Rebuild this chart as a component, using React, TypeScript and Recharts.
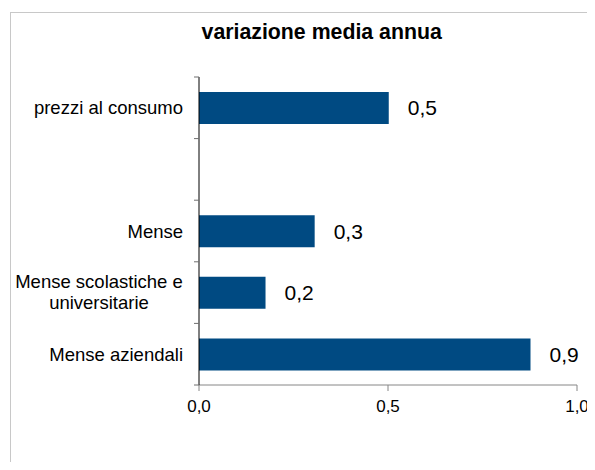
import React from 'react';
import { BarChart, Bar, XAxis, YAxis, LabelList } from 'recharts';

const categories = ['prezzi al consumo', ' ', 'Mense', 'Mense scolastiche e|universitarie', 'Mense aziendali'];
const values = [0.502, null, 0.306, 0.176, 0.877];
const xTicks = [0, 0.5, 1];

const chartData = categories.map((name, i) => ({ name, value: values[i] }));

const W = 595;
const H = 470;
const margin = { top: 77, right: 18, bottom: 55, left: 0 };
const yAxisWidth = 199;
const xAxisHeight = 30;
const band = (H - margin.top - margin.bottom - xAxisHeight) / categories.length;
const font = '"Liberation Sans", Arial, sans-serif';

const fmt = (v: any) => (v == null ? '' : Number(v).toFixed(1).replace('.', ','));

const CategoryTick = (props: any) => {
  const { y, payload, index } = props;
  const axisX = margin.left + yAxisWidth;
  const lines = String(payload.value).split('|');
  const isLast = index === categories.length - 1;
  return (
    <g>
      <line x1={axisX - 5} x2={axisX} y1={y - band / 2} y2={y - band / 2} stroke="#6e6e6e" />
      {isLast && <line x1={axisX - 5} x2={axisX} y1={y + band / 2} y2={y + band / 2} stroke="#6e6e6e" />}
      {lines.length === 1 ? (
        <text x={axisX - 16} y={y + 6.5} textAnchor="end" fontSize={18.5} fontFamily={font} fill="#000">
          {lines[0]}
        </text>
      ) : (
        <text x={axisX - 16 - 84} y={y - 4.5} textAnchor="middle" fontSize={18.5} fontFamily={font} fill="#000">
          <tspan x={axisX - 16 - 84}>{lines[0]}</tspan>
          <tspan x={axisX - 16 - 84} dy={21}>{lines[1]}</tspan>
        </text>
      )}
    </g>
  );
};

const ValueTick = (props: any) => {
  const { x, y, payload } = props;
  return (
    <text x={x} y={y + 12} textAnchor="middle" fontSize={17} fontFamily={font} fill="#000">
      {fmt(payload.value)}
    </text>
  );
};

export default function App() {
  // negative margin cancels the body's 8px so the chart covers the whole window
  return (
    <div style={{ position: 'relative', width: W, height: H, margin: -8 }}>
      <BarChart
        width={W}
        height={H}
        data={chartData}
        layout="vertical"
        margin={margin}
      >
        <XAxis
          type="number"
          domain={[0, 1]}
          ticks={xTicks}
          height={xAxisHeight}
          interval={0}
          axisLine={{ stroke: '#868686' }}
          tickLine={{ stroke: '#868686' }}
          tickSize={6}
          tickMargin={9}
          tick={<ValueTick />}
        />
        <YAxis
          type="category"
          dataKey="name"
          width={yAxisWidth}
          interval={0}
          axisLine={{ stroke: '#000' }}
          tickLine={false}
          tick={<CategoryTick />}
        />
        <Bar dataKey="value" fill="#004A82" barSize={32} isAnimationActive={false}>
          <LabelList
            dataKey="value"
            position="right"
            offset={19}
            formatter={fmt}
            style={{ fontSize: 21, fontFamily: font, fill: '#000' }}
          />
        </Bar>
      </BarChart>
      <svg
        width={W}
        height={H}
        style={{ position: 'absolute', left: 0, top: 0, pointerEvents: 'none' }}
      >
        <line x1={10} x2={W} y1={12.5} y2={12.5} stroke="#c8c8c8" />
        <line x1={10.5} x2={10.5} y1={12} y2={H} stroke="#c8c8c8" />
        <text x={321.7} y={39.3} textAnchor="middle" fontSize={21.3} fontWeight="bold" fontFamily={font} fill="#000">
          variazione media annua
        </text>
      </svg>
    </div>
  );
}
